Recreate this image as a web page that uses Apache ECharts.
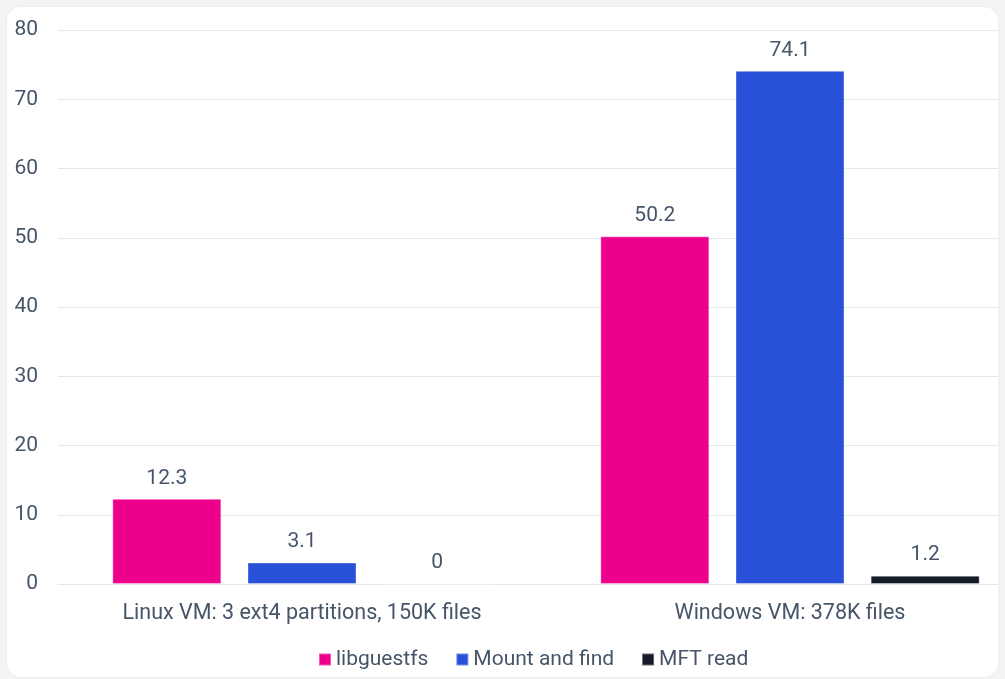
<!DOCTYPE html>
<html>
<head>
<meta charset="utf-8">
<script src="https://cdn.jsdelivr.net/npm/echarts@6/dist/echarts.min.js"></script>
<style>
  html, body { margin: 0; padding: 0; width: 1005px; height: 679px; background: #f4f4f5; overflow: hidden; }
  #card { position: absolute; left: 7px; top: 7px; width: 991px; height: 670px; background: #ffffff; border-radius: 14px; overflow: hidden; box-shadow: 0 0 3px rgba(0,0,0,0.06); }
  #chart { position: absolute; left: -7px; top: -7px; width: 1040px; height: 679px; }
</style>
</head>
<body>
<div id="card"><div id="chart"></div></div>
<script>
const categories = ['Linux VM: 3 ext4 partitions, 150K files', 'Windows VM: 378K files'];
const seriesNames = ['libguestfs', 'Mount and find', 'MFT read'];
const libguestfs = [12.3, 50.2];
const mountAndFind = [3.1, 74.1];
const mftRead = [0, 1.2];
const colors = ['#ec008c', '#2850d8', '#151b29'];

const textColor = '#475569';
const font = 'Roboto, "Noto Sans", sans-serif';
const fs = 21;

const chart = echarts.init(document.getElementById('chart'), null, { renderer: 'canvas' });
const values = [libguestfs, mountAndFind, mftRead];
chart.setOption({
  animation: false,
  textStyle: { fontFamily: font },
  grid: { left: 58, right: 6, top: 30, bottom: 95, containLabel: false, outerBoundsMode: 'none' },
  legend: {
    top: 644,
    left: 313,
    itemWidth: 12,
    itemHeight: 12,
    itemGap: 27,
    icon: 'rect',
    textStyle: { color: textColor, fontSize: fs, fontFamily: font },
    data: seriesNames
  },
  xAxis: {
    type: 'category',
    data: categories,
    axisLine: { show: true, lineStyle: { color: '#e2e8f0', width: 1 } },
    axisTick: { show: false },
    axisLabel: { color: textColor, fontSize: 21.5, margin: 19, fontFamily: font }
  },
  yAxis: {
    type: 'value',
    min: 0,
    max: 80,
    interval: 10,
    axisLine: { show: false },
    axisTick: { show: false },
    splitLine: { lineStyle: { color: '#e2e8f0', width: 1 } },
    axisLabel: { color: textColor, fontSize: fs, margin: 20, fontFamily: font }
  },
  series: seriesNames.map((name, i) => ({
    name: name,
    type: 'bar',
    data: values[i],
    barWidth: 109,
    barGap: '24%',
    itemStyle: { color: colors[i], borderColor: 'rgba(255,255,255,0.35)', borderWidth: 1 },
    label: { show: true, position: 'top', distance: 10, color: textColor, fontSize: fs, fontFamily: font }
  }))
});
</script>
</body>
</html>
